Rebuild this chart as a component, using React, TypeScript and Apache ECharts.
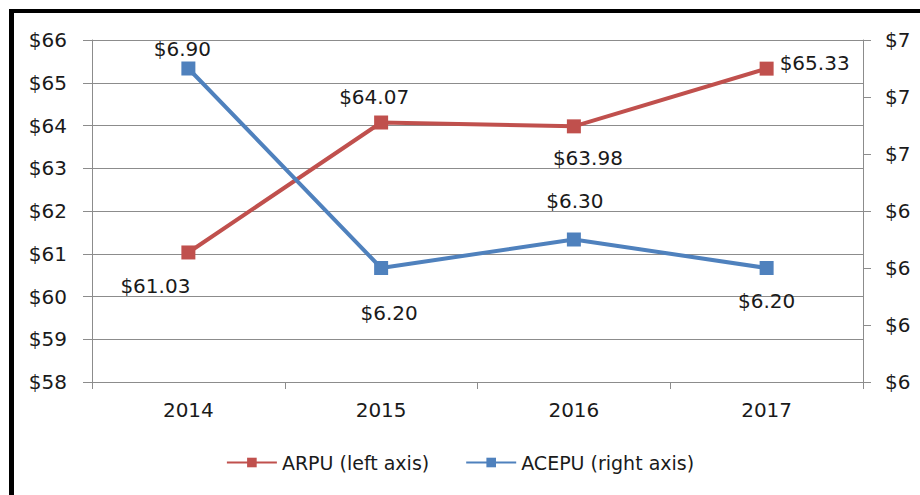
import React, { useEffect, useRef } from "react";
import * as echarts from "echarts";

const categories = ["2014", "2015", "2016", "2017"];
const arpuValues = [61.03, 64.07, 63.98, 65.33];
const acepuValues = [6.9, 6.2, 6.3, 6.2];
const arpuLabelOffsets = [[-33, 34], [-7, -26], [14, 32], [48, -6]];
const acepuLabelOffsets = [[-6, -20], [8, 45], [1, -39], [0, 33]];

const FONT = "DejaVu Sans";
const RED = "#C0504D";
const BLUE = "#4F81BD";
const GRID = "#8C8C8C";
const TEXT = "#1a1a1a";

export default function App() {
  const ref = useRef<HTMLDivElement>(null);
  useEffect(() => {
    if (!ref.current) return;
    const chart = echarts.init(ref.current, null, { renderer: "svg" });
    const mkData = (vals: number[], offs: number[][], dec: number) =>
      vals.map((v, i) => ({
        value: v,
        label: {
          show: true,
          position: "inside",
          offset: offs[i],
          formatter: "$" + v.toFixed(dec),
        },
      }));
    chart.setOption({
      animation: false,
      backgroundColor: "#ffffff",
      textStyle: { fontFamily: FONT },
      grid: { left: 92, right: 57, top: 40, bottom: 113, containLabel: false },
      legend: {
        bottom: 18,
        left: "center",
        itemWidth: 50,
        itemHeight: 12,
        itemGap: 36,
        textStyle: { fontFamily: FONT, fontSize: 19, color: TEXT },
        data: ["ARPU (left axis)", "ACEPU (right axis)"],
      },
      xAxis: {
        type: "category",
        data: categories,
        boundaryGap: true,
        axisLine: { show: true, lineStyle: { color: GRID, width: 1 } },
        axisTick: { show: true, length: 7, lineStyle: { color: GRID } },
        axisLabel: { fontFamily: FONT, fontSize: 20, color: TEXT, margin: 18 },
      },
      yAxis: [
        {
          type: "value",
          min: 58,
          max: 66,
          interval: 1,
          position: "left",
          axisLine: { show: true, lineStyle: { color: GRID, width: 1 } },
          axisTick: { show: true, length: 9, lineStyle: { color: GRID } },
          splitLine: { show: true, lineStyle: { color: GRID, width: 1 } },
          axisLabel: {
            fontFamily: FONT,
            fontSize: 20,
            color: TEXT,
            margin: 25,
            formatter: (v: number) => "$" + v,
          },
        },
        {
          type: "value",
          min: 5.8,
          max: 7.0,
          interval: 0.2,
          position: "right",
          axisLine: { show: true, lineStyle: { color: GRID, width: 1 } },
          axisTick: { show: true, length: 8, lineStyle: { color: GRID } },
          splitLine: { show: false },
          axisLabel: {
            fontFamily: FONT,
            fontSize: 20,
            color: TEXT,
            margin: 22,
            formatter: (v: number) => "$" + Math.round(v),
          },
        },
      ],
      series: [
        {
          name: "ARPU (left axis)",
          type: "line",
          yAxisIndex: 0,
          data: mkData(arpuValues, arpuLabelOffsets, 2),
          symbol: "rect",
          symbolSize: 14,
          lineStyle: { color: RED, width: 4 },
          itemStyle: { color: RED },
          label: { fontFamily: FONT, fontSize: 20, color: TEXT },
          z: 3,
        },
        {
          name: "ACEPU (right axis)",
          type: "line",
          yAxisIndex: 1,
          data: mkData(acepuValues, acepuLabelOffsets, 2),
          symbol: "rect",
          symbolSize: 14,
          lineStyle: { color: BLUE, width: 4 },
          itemStyle: { color: BLUE },
          label: { fontFamily: FONT, fontSize: 20, color: TEXT },
          z: 4,
        },
      ],
    });
    return () => chart.dispose();
  }, []);
  return (
    <div style={{ position: "fixed", left: 0, top: 0, width: 920, height: 495, background: "#fff" }}>
      <div ref={ref} style={{ position: "absolute", left: 0, top: 0, width: 920, height: 495 }} />
      <div
        style={{
          position: "absolute",
          left: 9,
          top: 9,
          width: 1000,
          height: 1000,
          borderLeft: "5px solid #000",
          borderTop: "4px solid #000",
          pointerEvents: "none",
        }}
      />
    </div>
  );
}
